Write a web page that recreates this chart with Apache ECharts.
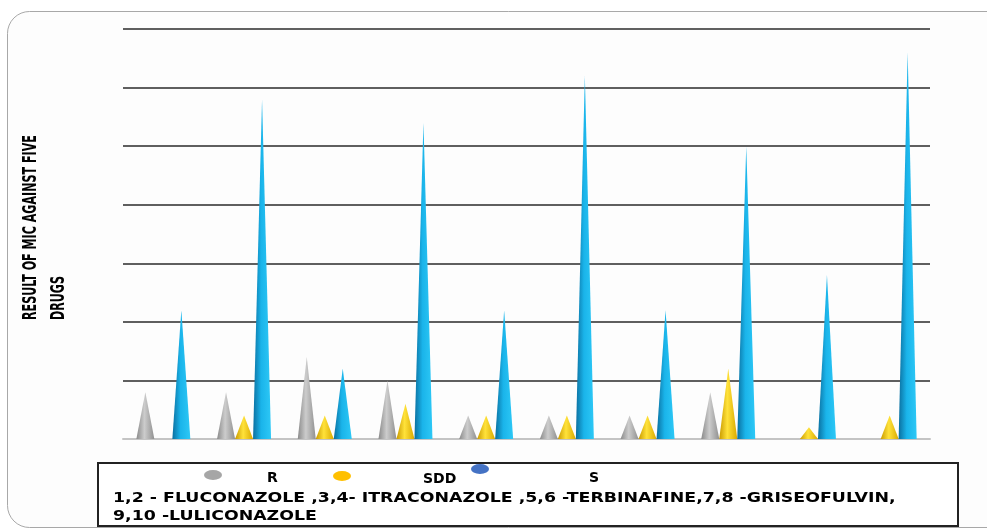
<!DOCTYPE html>
<html>
<head>
<meta charset="utf-8">
<script src="https://cdn.jsdelivr.net/npm/echarts@6/dist/echarts.min.js"></script>
<style>
  html, body { margin: 0; padding: 0; background: #ffffff; }
  #main { width: 987px; height: 531px; }
</style>
</head>
<body>
<div id="main"></div>
<script>
var categories = ["1", "2", "3", "4", "5", "6", "7", "8", "9", "10"];
var seriesNames = ["R", "SDD", "S"];
var rValues = [4, 4, 7, 5, 2, 2, 2, 4, 0, 0];
var sddValues = [0, 2, 2, 3, 2, 2, 2, 6, 1, 2];
var sValues = [11, 29, 6, 27, 11, 31, 11, 25, 14, 33];
var yMax = 35;
var yInterval = 5;
var yTitle = "RESULT OF MIC AGAINST FIVE\nDRUGS";
var noteLines = [
  "1,2 - FLUCONAZOLE ,3,4- ITRACONAZOLE ,5,6 -TERBINAFINE,7,8 -GRISEOFULVIN,",
  "9,10 -LULICONAZOLE"
];

function cone(c0, c1, c2) {
  return {
    type: "linear", x: 0, y: 0, x2: 1, y2: 0,
    colorStops: [
      { offset: 0, color: c0 },
      { offset: 0.45, color: c1 },
      { offset: 1, color: c2 }
    ]
  };
}

var chartDom = document.getElementById("main");
var myChart = echarts.init(chartDom);
var option;

var ellipse = "path://M0,5a9,5 0 1,0 18,0a9,5 0 1,0 -18,0z";

// one legend per entry: the icons and labels are spaced unevenly in the original
function legendItem(name, color, left, top, gap, padTop) {
  return {
    left: left,
    top: top,
    itemWidth: 18,
    itemHeight: 11,
    icon: ellipse,
    formatter: "{t|{name}}",
    textStyle: {
      color: "#000",
      rich: {
        t: {
          fontFamily: "DejaVu Sans",
          fontWeight: "bold",
          fontSize: 14,
          color: "#000",
          padding: [padTop, 0, 0, gap]
        }
      }
    },
    data: [{ name: name, itemStyle: { color: color } }]
  };
}

option = {
  backgroundColor: "#ffffff",
  animation: false,
  grid: {
    left: 123,
    right: 57,
    top: 29,
    bottom: 92
  },
  legend: [
    legendItem(seriesNames[0], "#a6a6a6", 199, 465, 40, 7),
    legendItem(seriesNames[1], "#ffc000", 328, 466, 67, 6),
    legendItem(seriesNames[2], "#4472c4", 466, 459, 95, 18)
  ],
  xAxis: {
    type: "category",
    data: categories,
    axisLabel: { show: false },
    axisTick: { show: false },
    axisLine: {
      lineStyle: { color: "#c4c4c4", width: 2 }
    }
  },
  yAxis: {
    type: "value",
    min: 0,
    max: yMax,
    interval: yInterval,
    axisLabel: { show: false },
    axisTick: { show: false },
    axisLine: { show: false },
    splitLine: {
      lineStyle: { color: "#5f5f5f", width: 2 }
    }
  },
  series: [
    {
      name: seriesNames[0],
      type: "pictorialBar",
      symbol: "triangle",
      barWidth: 18,
      barGap: "0%",
      data: rValues,
      itemStyle: { color: cone("#8a8a8a", "#cccccc", "#909090") }
    },
    {
      name: seriesNames[1],
      type: "pictorialBar",
      symbol: "triangle",
      barWidth: 18,
      barGap: "0%",
      data: sddValues,
      itemStyle: { color: cone("#c99a00", "#ffe23a", "#d9a900") }
    },
    {
      name: seriesNames[2],
      type: "pictorialBar",
      symbol: "triangle",
      barWidth: 18,
      barGap: "0%",
      data: sValues,
      itemStyle: { color: cone("#0b6f9f", "#1ab4ea", "#2dc8f6") }
    }
  ],
  graphic: [
    {
      type: "rect",
      z: -10,
      shape: { x: 7.5, y: 11.5, width: 1060, height: 516, r: 22 },
      style: { fill: "#fdfdfd", stroke: "#a8a8a8", lineWidth: 1 }
    },
    {
      type: "rect",
      shape: { x: 98, y: 463, width: 860, height: 63 },
      style: { fill: "#ffffff", stroke: "#222", lineWidth: 2 },
      z: -5
    },
    {
      type: "text",
      x: 113,
      y: 489,
      scaleX: 1.24,
      style: {
        text: noteLines.join("\n"),
        fontFamily: "DejaVu Sans",
        fontWeight: "bold",
        fontSize: 14,
        lineHeight: 18,
        fill: "#000"
      }
    },
    {
      type: "text",
      x: 17,
      y: 320,
      rotation: Math.PI / 2,
      scaleX: 0.65,
      style: {
        text: yTitle,
        fontFamily: "DejaVu Sans Condensed",
        fontWeight: "bold",
        fontSize: 19,
        lineHeight: 28,
        fill: "#000",
        align: "left",
        verticalAlign: "top"
      }
    }
  ]
};

option && myChart.setOption(option);
window.addEventListener("resize", function () {
  myChart.resize();
});
</script>
</body>
</html>
